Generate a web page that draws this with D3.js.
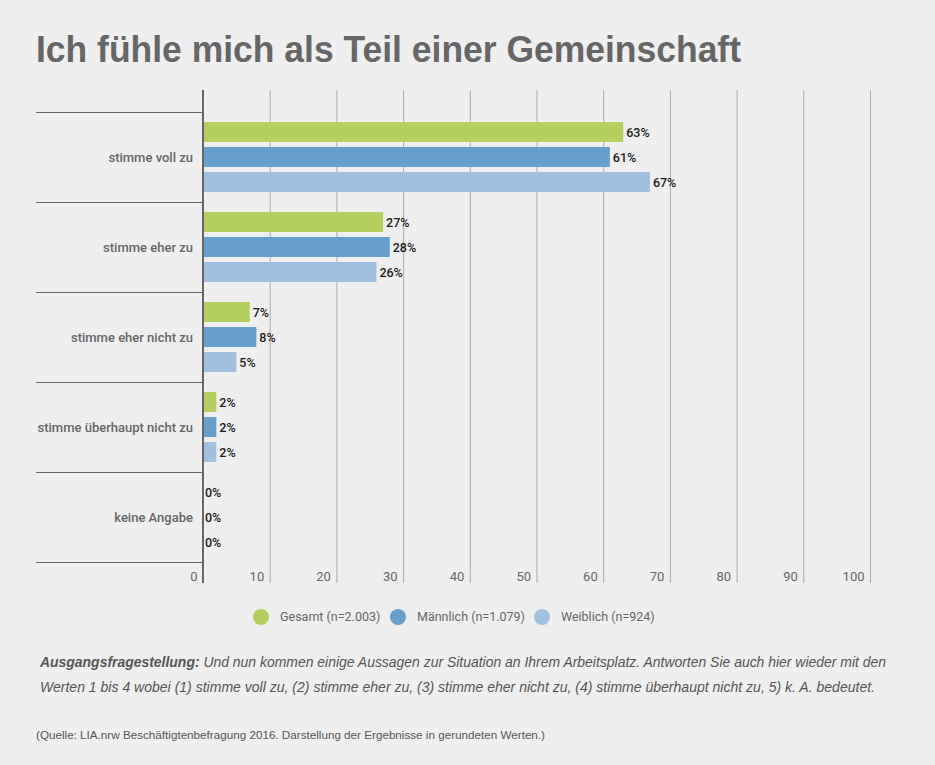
<!DOCTYPE html>
<html>
<head>
<meta charset="utf-8">
<script src="https://cdn.jsdelivr.net/npm/d3@7"></script>
<style>
  html, body { margin: 0; padding: 0; background: #efefef; }
  svg { display: block; }
</style>
</head>
<body>
<div id="chart"></div>
<script>
const categories = ["stimme voll zu", "stimme eher zu", "stimme eher nicht zu", "stimme überhaupt nicht zu", "keine Angabe"];
const series = ["Gesamt (n=2.003)", "Männlich (n=1.079)", "Weiblich (n=924)"];
const gesamt = [63, 27, 7, 2, 0];
const maennlich = [61, 28, 8, 2, 0];
const weiblich = [67, 26, 5, 2, 0];
const ticks = [0, 10, 20, 30, 40, 50, 60, 70, 80, 90, 100];
const colors = ["#b5cf5e", "#669fcb", "#a1bfdf"];

const width = 935, height = 765;
const margin = { top: 90, left: 203, right: 65, bottom: 182 };

const values = [gesamt, maennlich, weiblich];
const data = categories.map((c, i) => ({
  cat: c,
  vals: series.map((s, j) => ({ key: s, value: values[j][i] }))
}));

const svg = d3.select("#chart").append("svg")
  .attr("width", width)
  .attr("height", height);

svg.append("rect").attr("width", width).attr("height", height).attr("fill", "#efefef");

// Titel
svg.append("text")
  .attr("x", 36)
  .attr("y", 62)
  .attr("font-family", "Liberation Sans, Arial, sans-serif")
  .attr("font-weight", "bold")
  .attr("font-size", 37)
  .attr("fill", "#666")
  .attr("textLength", 705)
  .attr("lengthAdjust", "spacingAndGlyphs")
  .text("Ich fühle mich als Teil einer Gemeinschaft");

const x = d3.scaleLinear().domain([0, 100]).range([margin.left, 870]);

const y0 = d3.scaleBand()
  .domain(categories)
  .range([112, 562])
  .paddingInner(0);

const y1 = d3.scaleBand()
  .domain(series)
  .range([10, 80])
  .paddingInner(0.2);

// Gitterlinien
svg.append("g")
  .selectAll("line")
  .data(ticks.slice(1))
  .join("line")
  .attr("x1", (d) => x(d) + 0.5)
  .attr("x2", (d) => x(d) + 0.5)
  .attr("y1", margin.top)
  .attr("y2", 583)
  .attr("stroke", "#aaa")
  .attr("stroke-width", 1);

// Achse x (Beschriftung)
const xAxis = (g) =>
  g.attr("transform", "translate(0,581)")
    .call(d3.axisBottom(x).tickValues(ticks).tickSize(0).tickPadding(0))
    .call((g) => g.select(".domain").remove())
    .call((g) => g.selectAll("text")
      .attr("text-anchor", "end")
      .attr("x", -6)
      .attr("dy", 0)
      .attr("y", 0)
      .attr("font-family", "Roboto, sans-serif")
      .attr("font-size", 13)
      .attr("fill", "#666"));

svg.append("g").call(xAxis);

// Trennlinien Kategorien
svg.append("g")
  .selectAll("line")
  .data(categories.concat([null]))
  .join("line")
  .attr("x1", 36)
  .attr("x2", margin.left)
  .attr("y1", (d, i) => (i < categories.length ? y0(d) : y0.range()[1]) + 0.5)
  .attr("y2", (d, i) => (i < categories.length ? y0(d) : y0.range()[1]) + 0.5)
  .attr("stroke", "#666")
  .attr("stroke-width", 1);

// Kategorie-Labels
svg.append("g")
  .selectAll("text")
  .data(categories)
  .join("text")
  .attr("x", 193)
  .attr("y", (d) => y0(d) + y0.bandwidth() / 2)
  .attr("dy", "0.35em")
  .attr("text-anchor", "end")
  .attr("font-family", "Roboto, sans-serif")
  .attr("font-weight", 500)
  .attr("font-size", 13)
  .attr("fill", "#666")
  .text((d) => d);

// Balken
const groups = svg.append("g")
  .selectAll("g")
  .data(data)
  .join("g")
  .attr("transform", (d) => `translate(0,${ y0(d.cat) })`);

groups.selectAll("rect")
  .data((d) => d.vals)
  .join("rect")
  .attr("x", x(0))
  .attr("y", (d) => y1(d.key))
  .attr("width", (d) => x(d.value) - x(0))
  .attr("height", y1.bandwidth())
  .attr("fill", (d, i) => colors[i]);

groups.selectAll("text")
  .data((d) => d.vals)
  .join("text")
  .attr("x", (d) => x(d.value) + (d.value > 0 ? 3 : 2))
  .attr("y", (d) => y1(d.key) + y1.bandwidth() / 2)
  .attr("dy", "0.36em")
  .attr("font-family", "Roboto, sans-serif")
  .attr("font-weight", 500)
  .attr("font-size", 12.5)
  .attr("fill", "#1a1a1a")
  .text((d) => d.value + "%");

// y-Achse
svg.append("line")
  .attr("x1", margin.left)
  .attr("x2", margin.left)
  .attr("y1", margin.top)
  .attr("y2", 583)
  .attr("stroke", "#666")
  .attr("stroke-width", 2);

// Legende
const legendX = [261, 398, 542];
const legend = svg.append("g")
  .selectAll("g")
  .data(series)
  .join("g")
  .attr("transform", (d, i) => `translate(${ legendX[i] },617)`);

legend.append("circle")
  .attr("r", 8)
  .attr("fill", (d, i) => colors[i]);

legend.append("text")
  .attr("x", 19)
  .attr("dy", "0.35em")
  .attr("font-family", "Roboto, sans-serif")
  .attr("font-size", 12.5)
  .attr("fill", "#666")
  .text((d) => d);

// Fussnote
const note = svg.append("g")
  .attr("font-family", "Liberation Sans, Arial, sans-serif")
  .attr("font-style", "italic")
  .attr("font-size", 14)
  .attr("fill", "#555");

const line1 = note.append("text")
  .attr("x", 40)
  .attr("y", 667)
  .attr("textLength", 846)
  .attr("lengthAdjust", "spacingAndGlyphs");
line1.append("tspan").attr("font-weight", "bold").text("Ausgangsfragestellung:");
line1.append("tspan").text(" Und nun kommen einige Aussagen zur Situation an Ihrem Arbeitsplatz. Antworten Sie auch hier wieder mit den");

note.append("text")
  .attr("x", 40)
  .attr("y", 692)
  .attr("textLength", 835)
  .attr("lengthAdjust", "spacingAndGlyphs")
  .text("Werten 1 bis 4 wobei (1) stimme voll zu, (2) stimme eher zu, (3) stimme eher nicht zu, (4) stimme überhaupt nicht zu,  5) k. A. bedeutet.");

svg.append("text")
  .attr("x", 36)
  .attr("y", 739)
  .attr("font-family", "Liberation Sans, Arial, sans-serif")
  .attr("font-size", 11)
  .attr("fill", "#555")
  .attr("textLength", 509)
  .attr("lengthAdjust", "spacingAndGlyphs")
  .text("(Quelle: LIA.nrw Beschäftigtenbefragung 2016. Darstellung der Ergebnisse in gerundeten Werten.)");
</script>
</body>
</html>
